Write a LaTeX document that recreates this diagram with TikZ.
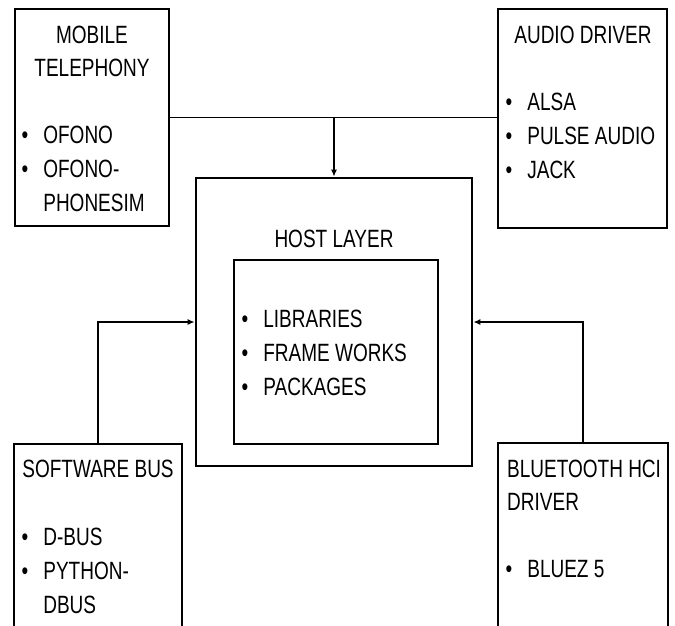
\documentclass[tikz,border=0pt]{standalone}
\usepackage{fontspec}
\setmainfont[FakeStretch=0.76]{Liberation Sans}
\usepackage{tikz}
\usetikzlibrary{arrows.meta,positioning}
\tikzset{
  block/.style={rectangle,draw=black,line width=2.8pt,inner sep=0pt},
  title/.style={font=\fontsize{25}{33}\selectfont,inner sep=0pt,align=center,anchor=base},
  items/.style={font=\fontsize{25}{34}\selectfont,inner sep=0pt,anchor=base west},
  link/.style={line width=1.3pt,draw=black},
  arrow/.style={-{Latex[length=7pt,width=6pt]},line width=1.3pt,draw=black}
}
\newcommand{\bulletlist}[1]{\begin{tabular}[t]{@{}l@{\hspace{15pt}}l@{}}#1\end{tabular}}

\begin{document}
\begin{tikzpicture}[x=1pt,y=-1pt]
\clip (0,0) rectangle (675,625);
% boxes
\node[block,minimum width=154pt,minimum height=217pt] (mob) at (92,117.5) {};
\node[block,minimum width=169pt,minimum height=219pt] (aud) at (582.5,118.5) {};
\node[block,minimum width=276pt,minimum height=288pt] (host) at (334,322) {};
\node[block,minimum width=204pt,minimum height=184pt] (lib) at (336,352) {};
\node[block,minimum width=168pt,minimum height=196pt] (sw) at (98,542) {};
\node[block,minimum width=170pt,minimum height=197pt] (bt) at (583,541.5) {};
% texts (base of a two-line title is its last line)
\node[title] (mobT) at (92,76) {MOBILE\\TELEPHONY};
\node[items] (mobL) at (21.5,143) {\bulletlist{\textbullet & OFONO\\ \textbullet & OFONO-\\ & PHONESIM}};
\node[title] (audT) at (583,43) {AUDIO DRIVER};
\node[items] (audL) at (505.5,110) {\bulletlist{\textbullet & ALSA\\ \textbullet & PULSE AUDIO\\ \textbullet & JACK}};
\node[title] (hostT) at (334,247) {HOST LAYER};
\node[items] (libL) at (241.5,327) {\bulletlist{\textbullet & LIBRARIES\\ \textbullet & FRAME WORKS\\ \textbullet & PACKAGES}};
\node[title] (swT) at (98,477) {SOFTWARE BUS};
\node[items] (swL) at (21.5,545) {\bulletlist{\textbullet & D-BUS\\ \textbullet & PYTHON-\\ & DBUS}};
\node[title,anchor=base west,align=left] (btT) at (507,510) {BLUETOOTH HCI\\DRIVER};
\node[items] (btL) at (505.5,577) {\bulletlist{\textbullet & BLUEZ 5}};
% connectors
\coordinate (join) at (host.north |- mob.east);
\draw[link] (mob.east) -- (aud.west |- mob.east);
\draw[arrow] (join) -- (host.north);
\draw[arrow] (sw.north) |- (host.west);
\draw[arrow] (bt.north) |- (host.east);
\end{tikzpicture}
\end{document}
